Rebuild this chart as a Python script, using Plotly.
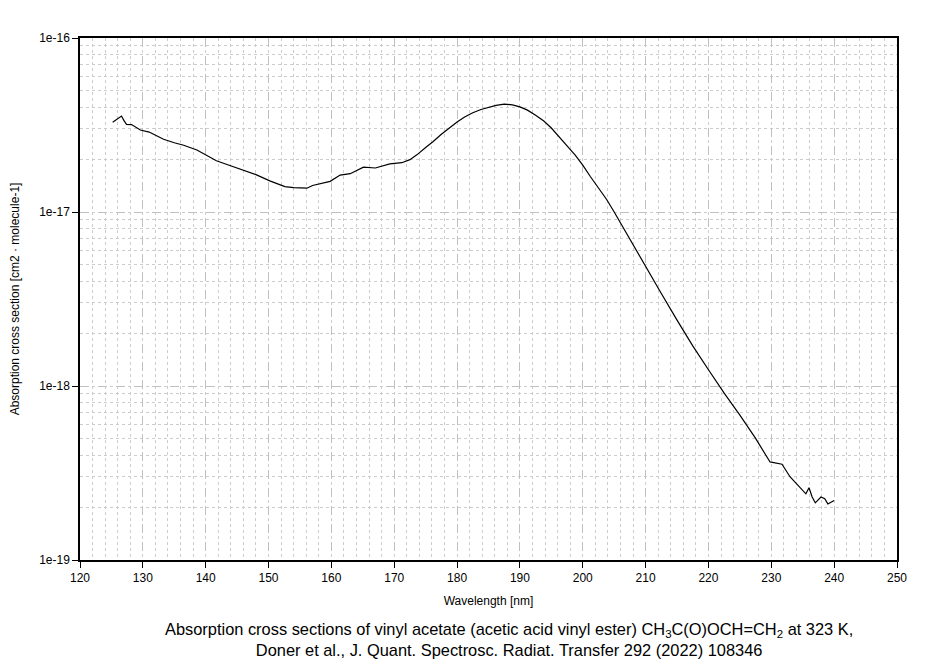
import plotly.graph_objects as go

wavelength = [125.2, 125.8, 126.6, 127.0, 127.4, 128.2, 129.0, 129.6, 131.0, 133.3, 135.0, 136.5, 138.6, 140.0,
              141.7, 143.5, 146.0, 148.0, 150.2, 151.5, 152.6, 154.0, 156.1, 157.0, 157.9, 159.8, 161.4, 163.0,
              165.1, 167.0, 169.3, 171.2, 172.5, 173.6, 175.0, 176.2, 177.5, 178.9, 180.0, 181.2, 182.5, 183.8,
              185.0, 186.2, 187.5, 188.8, 190.0, 191.2, 192.5, 193.8, 195.0, 196.2, 197.5, 198.8, 200.0,
              201.2, 202.5, 203.8, 205.0, 206.2, 207.5, 208.8, 210.0, 212.5, 215.0, 217.5, 220.0,
              222.5, 225.0, 227.5, 229.8, 231.7, 233.0, 234.6, 235.5, 236.0, 236.5, 237.0, 237.9, 238.5,
              239.0, 240.0]
cross_section = [3.28e-17, 3.40e-17, 3.56e-17, 3.35e-17, 3.19e-17, 3.18e-17, 3.05e-17, 2.96e-17, 2.88e-17, 2.62e-17,
                 2.50e-17, 2.42e-17, 2.27e-17, 2.12e-17, 1.97e-17, 1.87e-17, 1.73e-17, 1.64e-17, 1.51e-17,
                 1.45e-17, 1.40e-17, 1.38e-17, 1.37e-17, 1.42e-17, 1.45e-17, 1.50e-17, 1.63e-17, 1.66e-17,
                 1.81e-17, 1.79e-17, 1.89e-17, 1.92e-17, 2.00e-17, 2.13e-17, 2.35e-17, 2.54e-17, 2.80e-17,
                 3.07e-17, 3.29e-17, 3.52e-17, 3.72e-17, 3.88e-17, 4.00e-17, 4.10e-17, 4.17e-17, 4.13e-17,
                 4.02e-17, 3.85e-17, 3.60e-17, 3.33e-17, 3.04e-17, 2.73e-17, 2.40e-17, 2.12e-17, 1.86e-17,
                 1.60e-17, 1.38e-17, 1.18e-17, 1.00e-17, 8.40e-18, 7.00e-18, 5.85e-18, 4.90e-18, 3.40e-18,
                 2.39e-18, 1.70e-18, 1.24e-18, 9.10e-19, 6.80e-19, 5.00e-19, 3.66e-19, 3.55e-19, 3.00e-19,
                 2.60e-19, 2.40e-19, 2.60e-19, 2.30e-19, 2.13e-19, 2.30e-19, 2.25e-19, 2.10e-19, 2.20e-19]

x_ticks = [120, 130, 140, 150, 160, 170, 180, 190, 200, 210, 220, 230, 240, 250]
y_ticks = [1e-19, 1e-18, 1e-17, 1e-16]
y_tick_labels = ["1e-19", "1e-18", "1e-17", "1e-16"]

fig = go.Figure()
fig.add_trace(go.Scatter(x=wavelength, y=cross_section, mode="lines",
                         line=dict(color="black", width=1.2), showlegend=False))

font = dict(family="Liberation Sans, Arial, sans-serif", size=12, color="black")

fig.update_layout(
    width=935, height=664,
    margin=dict(l=72, r=46, t=30, b=112),
    paper_bgcolor="white", plot_bgcolor="white",
    font=font,
    xaxis=dict(
        range=[120, 250], tickvals=x_ticks, ticks="outside", ticklen=6, tickcolor="black",
        showline=True, linecolor="black", linewidth=1.5, mirror=True,
        showgrid=True, gridcolor="#c0c0c0", griddash="dash", gridwidth=1,
        minor=dict(dtick=2, showgrid=True, gridcolor="#cccccc", griddash="dot", gridwidth=1, ticks=""),
        zeroline=False, automargin=False,
        title=dict(text="Wavelength [nm]", standoff=12, font=font),
        tickfont=font,
    ),
    yaxis=dict(
        type="log", range=[-19, -16], tickvals=y_ticks, ticktext=y_tick_labels,
        ticks="outside", ticklen=6, tickcolor="black",
        showline=True, linecolor="black", linewidth=1.5, mirror=True,
        showgrid=True, gridcolor="#c0c0c0", griddash="dash", gridwidth=1,
        minor=dict(dtick="D1", showgrid=True, gridcolor="#cccccc", griddash="dot", gridwidth=1, ticks=""),
        zeroline=False, automargin=False,
        title=dict(text="Absorption cross section [cm2 · molecule-1]", standoff=30, font=font),
        tickfont=font,
    ),
    annotations=[dict(
        text="Absorption cross sections of vinyl acetate (acetic acid vinyl ester) CH<sub>3</sub>C(O)OCH=CH<sub>2</sub> at 323 K,<br>Doner et al., J. Quant. Spectrosc. Radiat. Transfer 292 (2022) 108346",
        xref="paper", yref="paper", x=0.525, y=-0.112, xanchor="center", yanchor="top",
        showarrow=False, align="center",
        font=dict(family="Liberation Sans, Arial, sans-serif", size=16.4, color="black"),
    )],
)

fig.write_html("out.html")
